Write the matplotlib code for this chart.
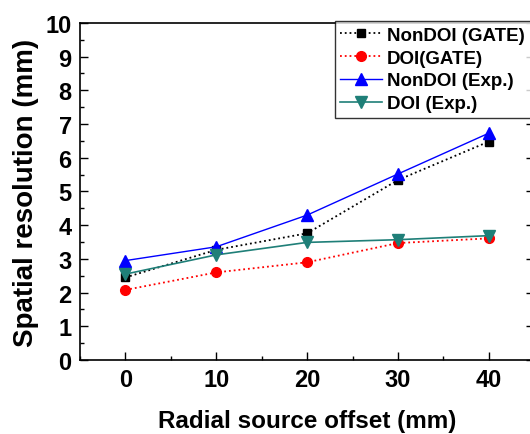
import matplotlib
matplotlib.use("Agg")
import matplotlib.pyplot as plt
from matplotlib.ticker import MultipleLocator

plt.rcParams['font.family'] = ['Liberation Sans', 'DejaVu Sans']
plt.rcParams['font.weight'] = 'bold'

# radial offsets (mm)
offsets = [0, 10, 20, 30, 40]

# spatial resolution (mm)
nondoi_gate = [2.45, 3.27, 3.76, 5.34, 6.48]
doi_gate = [2.08, 2.60, 2.90, 3.47, 3.61]
nondoi_exp = [2.95, 3.36, 4.30, 5.52, 6.73]
doi_exp = [2.55, 3.12, 3.49, 3.57, 3.69]

fig = plt.figure(figsize=(5.3, 4.35), dpi=100)
ax = fig.add_axes([0.151, 0.170, 0.857, 0.775])

ax.plot(offsets, nondoi_gate, color="black", linestyle=":", linewidth=1.3,
        marker="s", markersize=6, label="NonDOI (GATE)")
ax.plot(offsets, doi_gate, color="red", linestyle=":", linewidth=1.3,
        marker="o", markersize=7, label="DOI(GATE)")
ax.plot(offsets, nondoi_exp, color="#0000ff", linestyle="-", linewidth=1.0,
        marker="^", markersize=8, label="NonDOI (Exp.)")
ax.plot(offsets, doi_exp, color="#1f7f78", linestyle="-", linewidth=1.2,
        marker="v", markersize=8, label="DOI (Exp.)")

ax.set_xlim(-5, 45)
ax.set_ylim(0, 10)
ax.xaxis.set_major_locator(MultipleLocator(10))
ax.xaxis.set_minor_locator(MultipleLocator(5))
ax.yaxis.set_major_locator(MultipleLocator(1))
ax.yaxis.set_minor_locator(MultipleLocator(0.5))
ax.tick_params(which="both", direction="in", top=False, right=True, width=1.0)
ax.tick_params(which="major", length=6, labelsize=17, pad=6)
ax.tick_params(which="minor", length=3)
for lab in ax.get_xticklabels() + ax.get_yticklabels():
    lab.set_fontweight("bold")
for s in ax.spines.values():
    s.set_linewidth(1.2)
ax.spines["right"].set_visible(False)

ax.set_xlabel("Radial source offset (mm)", fontsize=17.5, fontweight="bold", labelpad=13)
ax.set_ylabel("Spatial resolution (mm)", fontsize=20, fontweight="bold", labelpad=5)

leg = ax.legend(loc="upper right", bbox_to_anchor=(0.992, 1.005), fontsize=13.5,
                frameon=True, fancybox=False, handlelength=2.2, handletextpad=0.3,
                borderpad=0.3, labelspacing=0.3, borderaxespad=0)
leg.get_frame().set_edgecolor("black")
leg.get_frame().set_linewidth(1.0)
for t in leg.get_texts():
    t.set_fontweight("bold")

fig.savefig("out.png", dpi=100)
